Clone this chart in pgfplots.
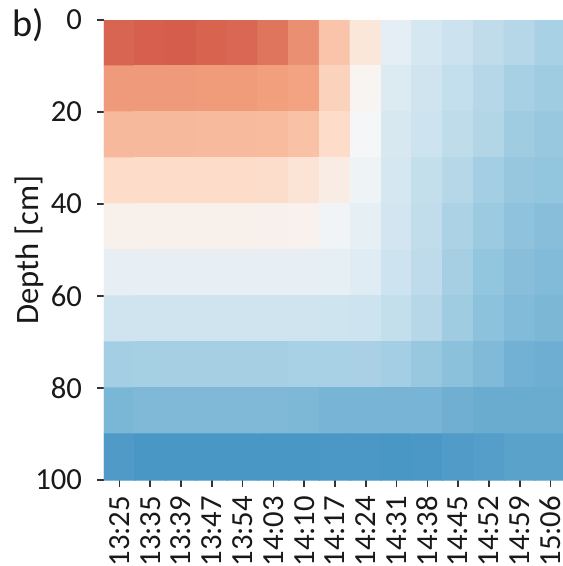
\documentclass[border=0pt]{standalone}
\usepackage{fontspec}
\setmainfont{Carlito}
\usepackage{pgfplots}
\usepackage{pgfplotstable}
\pgfplotsset{compat=1.18}

% RdBu reversed (ColorBrewer, 11 stops), indexed 0..10
\pgfplotsset{colormap={RdBuR}{
  rgb255=(5,48,97) rgb255=(33,102,172) rgb255=(67,147,195)
  rgb255=(146,197,222) rgb255=(209,229,240) rgb255=(247,247,247)
  rgb255=(253,219,199) rgb255=(244,165,130) rgb255=(214,96,77)
  rgb255=(178,24,43) rgb255=(103,0,31)}}

% column index x, depth-cell centre y (negative = below surface), value c
\pgfplotstableread{
x y c
0 -5 7.93
1 -5 8.00
2 -5 8.05
3 -5 7.95
4 -5 7.90
5 -5 7.70
6 -5 7.33
7 -5 6.43
8 -5 5.60
9 -5 4.52
10 -5 4.10
11 -5 3.92
12 -5 3.73
13 -5 3.56
14 -5 3.37
0 -15 7.16
1 -15 7.16
2 -15 7.16
3 -15 7.15
4 -15 7.14
5 -15 7.09
6 -15 7.03
7 -15 6.17
8 -15 5.10
9 -15 4.29
10 -15 3.98
11 -15 3.78
12 -15 3.56
13 -15 3.35
14 -15 3.22
0 -25 6.63
1 -25 6.63
2 -25 6.63
3 -25 6.62
4 -25 6.62
5 -25 6.60
6 -25 6.46
7 -25 5.96
8 -25 4.95
9 -25 4.18
10 -25 3.94
11 -25 3.71
12 -25 3.52
13 -25 3.22
14 -25 3.10
0 -35 5.96
1 -35 5.96
2 -35 5.96
3 -35 5.95
4 -35 5.95
5 -35 5.92
6 -35 5.70
7 -35 5.40
8 -35 4.76
9 -35 4.10
10 -35 3.80
11 -35 3.56
12 -35 3.29
13 -35 3.08
14 -35 3.00
0 -45 5.25
1 -45 5.25
2 -45 5.25
3 -45 5.25
4 -45 5.25
5 -45 5.24
6 -45 5.20
7 -45 4.85
8 -45 4.55
9 -45 4.03
10 -45 3.75
11 -45 3.40
12 -45 3.16
13 -45 2.95
14 -45 2.87
0 -55 4.58
1 -55 4.58
2 -55 4.58
3 -55 4.58
4 -55 4.58
5 -55 4.58
6 -55 4.57
7 -55 4.55
8 -55 4.40
9 -55 3.94
10 -55 3.68
11 -55 3.32
12 -55 3.00
13 -55 2.87
14 -55 2.80
0 -65 3.97
1 -65 3.97
2 -65 3.97
3 -65 3.97
4 -65 3.97
5 -65 3.97
6 -65 3.97
7 -65 3.96
8 -65 3.94
9 -65 3.80
10 -65 3.57
11 -65 3.22
12 -65 2.94
13 -65 2.80
14 -65 2.72
0 -75 3.28
1 -75 3.30
2 -75 3.32
3 -75 3.32
4 -75 3.33
5 -75 3.33
6 -75 3.37
7 -75 3.37
8 -75 3.36
9 -75 3.27
10 -75 3.10
11 -75 2.92
12 -75 2.78
13 -75 2.60
14 -75 2.55
0 -85 2.70
1 -85 2.76
2 -85 2.76
3 -85 2.76
4 -85 2.76
5 -85 2.76
6 -85 2.75
7 -85 2.67
8 -85 2.67
9 -85 2.67
10 -85 2.66
11 -85 2.57
12 -85 2.50
13 -85 2.50
14 -85 2.50
0 -95 2.15
1 -95 2.08
2 -95 2.08
3 -95 2.08
4 -95 2.08
5 -95 2.08
6 -95 2.08
7 -95 2.10
8 -95 2.10
9 -95 2.08
10 -95 2.10
11 -95 2.16
12 -95 2.22
13 -95 2.30
14 -95 2.30
}\depthtable

\begin{document}
\fontsize{9.8}{12}\selectfont
\begin{tikzpicture}
\begin{axis}[
  at={(0,0)}, anchor=south west,
  scale only axis, width=138.6pt, height=138pt,
  xmin=-0.5, xmax=14.5, ymin=-100, ymax=0,
  colormap name=RdBuR, point meta min=0, point meta max=10,
  axis line style={draw=none},
  tick style={draw=black!80, line width=0.5pt},
  tick align=outside, major tick length=2pt,
  xtick pos=left, ytick pos=left,
  xtick={0,...,14},
  xticklabels={13:25,13:35,13:39,13:47,13:54,14:03,14:10,14:17,14:24,14:31,14:38,14:45,14:52,14:59,15:06},
  x tick label style={rotate=90, anchor=east, inner sep=2.6pt},
  ytick={-100,-80,-60,-40,-20,0},
  yticklabels={100,80,60,40,20,0},
  y tick label style={anchor=east, inner sep=4.4pt},
  ylabel={Depth [cm]},
  every axis y label/.style={at={(axis description cs:-0.162,0.5)}, rotate=90, anchor=center},
  tick label style={text=black!90, font=\fontsize{9.2}{11}\selectfont},
  label style={text=black!90},
]
\addplot[matrix plot*, mesh/cols=15, mesh/rows=10, point meta=explicit]
  table[x=x, y=y, meta=c] {\depthtable};
\end{axis}
\node[font=\fontsize{11.5}{14}\selectfont, text=black!90] at (-22.8pt,136.5pt) {b)};
\pgfresetboundingbox
\useasboundingbox (-31.2pt,-25.8pt) rectangle (137.7pt,144pt);
\end{tikzpicture}
\end{document}
